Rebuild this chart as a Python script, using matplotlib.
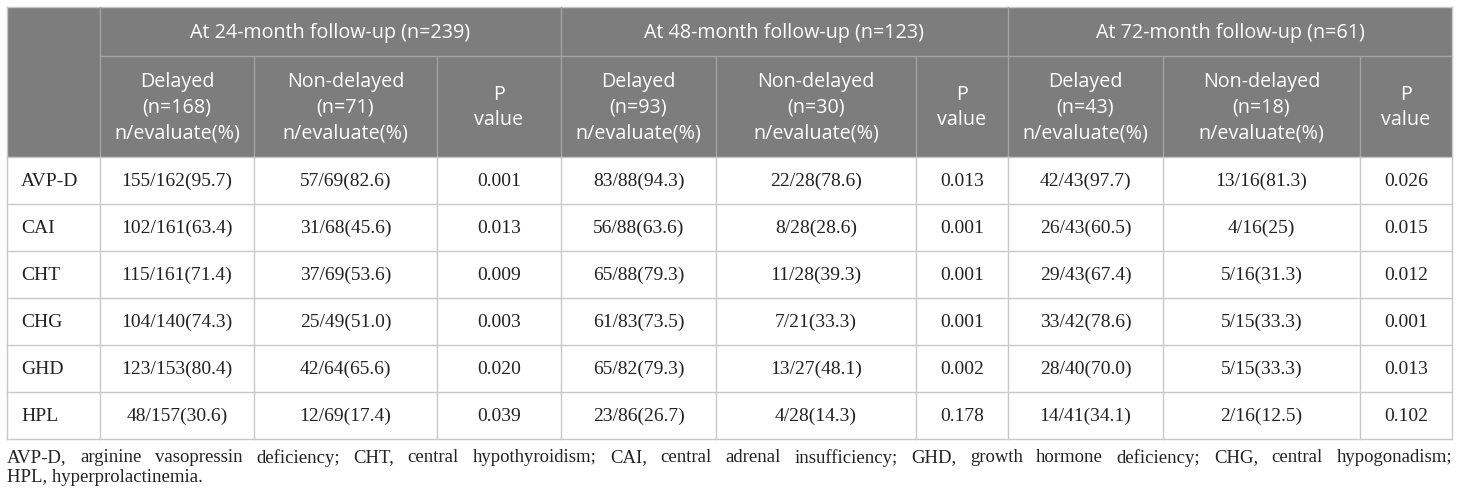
import matplotlib
matplotlib.use('Agg')
import matplotlib.pyplot as plt
from matplotlib.patches import Rectangle

## dados da tabela ##
grupos = ["At 24-month follow-up (n=239)",
          "At 48-month follow-up (n=123)",
          "At 72-month follow-up (n=61)"]
cabecalhos = [
    "Delayed\n(n=168)\nn/evaluate(%)", "Non-delayed\n(n=71)\nn/evaluate(%)", "P\nvalue",
    "Delayed\n(n=93)\nn/evaluate(%)", "Non-delayed\n(n=30)\nn/evaluate(%)", "P\nvalue",
    "Delayed\n(n=43)\nn/evaluate(%)", "Non-delayed\n(n=18)\nn/evaluate(%)", "P\nvalue",
]
linhas = ["AVP-D", "CAI", "CHT", "CHG", "GHD", "HPL"]
m24_delayed = ["155/162(95.7)", "102/161(63.4)", "115/161(71.4)", "104/140(74.3)", "123/153(80.4)", "48/157(30.6)"]
m24_nondelayed = ["57/69(82.6)", "31/68(45.6)", "37/69(53.6)", "25/49(51.0)", "42/64(65.6)", "12/69(17.4)"]
m24_p = ["0.001", "0.013", "0.009", "0.003", "0.020", "0.039"]
m48_delayed = ["83/88(94.3)", "56/88(63.6)", "65/88(79.3)", "61/83(73.5)", "65/82(79.3)", "23/86(26.7)"]
m48_nondelayed = ["22/28(78.6)", "8/28(28.6)", "11/28(39.3)", "7/21(33.3)", "13/27(48.1)", "4/28(14.3)"]
m48_p = ["0.013", "0.001", "0.001", "0.001", "0.002", "0.178"]
m72_delayed = ["42/43(97.7)", "26/43(60.5)", "29/43(67.4)", "33/42(78.6)", "28/40(70.0)", "14/41(34.1)"]
m72_nondelayed = ["13/16(81.3)", "4/16(25)", "5/16(31.3)", "5/15(33.3)", "5/15(33.3)", "2/16(12.5)"]
m72_p = ["0.026", "0.015", "0.012", "0.001", "0.013", "0.102"]
nota = ["AVP-D, arginine vasopressin deficiency; CHT, central hypothyroidism; CAI, central adrenal insufficiency; "
        "GHD, growth hormone deficiency; CHG, central hypogonadism;",
        "HPL, hyperprolactinemia."]

colunas = [m24_delayed, m24_nondelayed, m24_p, m48_delayed, m48_nondelayed, m48_p,
           m72_delayed, m72_nondelayed, m72_p]

## geometria (pixels) ##
W, H = 1460, 501
xs = [7, 100, 254, 437, 561, 716, 916, 1008, 1163, 1360, 1452]
y_top, y_h1, y_h2 = 7, 56, 157
row_h = 47
cinza = "#7d7d7d"
linha_cab = "#a3a3a3"
linha_corpo = "#c8c8c8"
serif = "Liberation Serif"
sans = "Open Sans"
cor_txt = "#222222"

fig = plt.figure(figsize=(W / 100, H / 100), dpi=100)
ax = fig.add_axes([0, 0, 1, 1])
ax.set_xlim(0, W)
ax.set_ylim(H, 0)
ax.axis('off')

## cabeçalho ##
ax.add_patch(Rectangle((xs[0], y_top), xs[-1] - xs[0], y_h2 - y_top, color=cinza, lw=0))
ax.plot([xs[0], xs[-1]], [y_top, y_top], color=linha_corpo, lw=1)
ax.plot([xs[1], xs[-1]], [y_h1, y_h1], color=linha_cab, lw=1)
for i, g in enumerate(grupos):
    x0, x1 = xs[1 + 3 * i], xs[4 + 3 * i]
    ax.text((x0 + x1) / 2, (y_top + y_h1) / 2 + 1, g, ha='center', va='center',
            color='white', fontsize=14.2, family=sans)
    if i > 0:
        ax.plot([x0, x0], [y_top, y_h2], color=linha_cab, lw=1)
ax.plot([xs[1], xs[1]], [y_top, y_h2], color=linha_cab, lw=1)
for j, c in enumerate(cabecalhos):
    x0, x1 = xs[1 + j], xs[2 + j]
    if j % 3 != 0:
        ax.plot([x0, x0], [y_h1, y_h2], color=linha_cab, lw=1)
    ax.text((x0 + x1) / 2, (y_h1 + y_h2) / 2 + 1, c, ha='center', va='center',
            color='white', fontsize=14.2, family=sans, linespacing=1.37)

## corpo ##
y_fim = y_h2 + row_h * len(linhas)
for k in range(len(linhas) + 1):
    y = y_h2 + row_h * k
    ax.plot([xs[0], xs[-1]], [y, y], color=linha_corpo, lw=1)
for x in xs:
    ax.plot([x, x], [y_h2, y_fim], color=linha_corpo, lw=1)
ax.plot([xs[0], xs[0]], [y_top, y_h2], color=linha_corpo, lw=1)
ax.plot([xs[-1], xs[-1]], [y_top, y_h2], color=linha_corpo, lw=1)

for k, nome in enumerate(linhas):
    yc = y_h2 + row_h * k + row_h / 2 + 1
    ax.text(xs[0] + 14, yc, nome, ha='left', va='center', fontsize=14, family=serif, color=cor_txt)
    for j, col in enumerate(colunas):
        ax.text((xs[1 + j] + xs[2 + j]) / 2, yc, col[k], ha='center', va='center',
                fontsize=14, family=serif, color=cor_txt)

## nota de rodapé (justificada na primeira linha) ##
fig.canvas.draw()
renderer = fig.canvas.get_renderer()
palavras = nota[0].split(" ")
objs = [ax.text(0, 458, p, ha='left', va='center', fontsize=13.5, family=serif, color=cor_txt)
        for p in palavras]
larguras = [t.get_window_extent(renderer).width for t in objs]
espaco = (xs[-1] - xs[0] - sum(larguras)) / (len(palavras) - 1)
x = xs[0]
for t, w in zip(objs, larguras):
    t.set_x(x)
    x += w + espaco
ax.text(xs[0], 477, nota[1], ha='left', va='center', fontsize=13.5, family=serif, color=cor_txt)

fig.savefig("out.png", dpi=100)
